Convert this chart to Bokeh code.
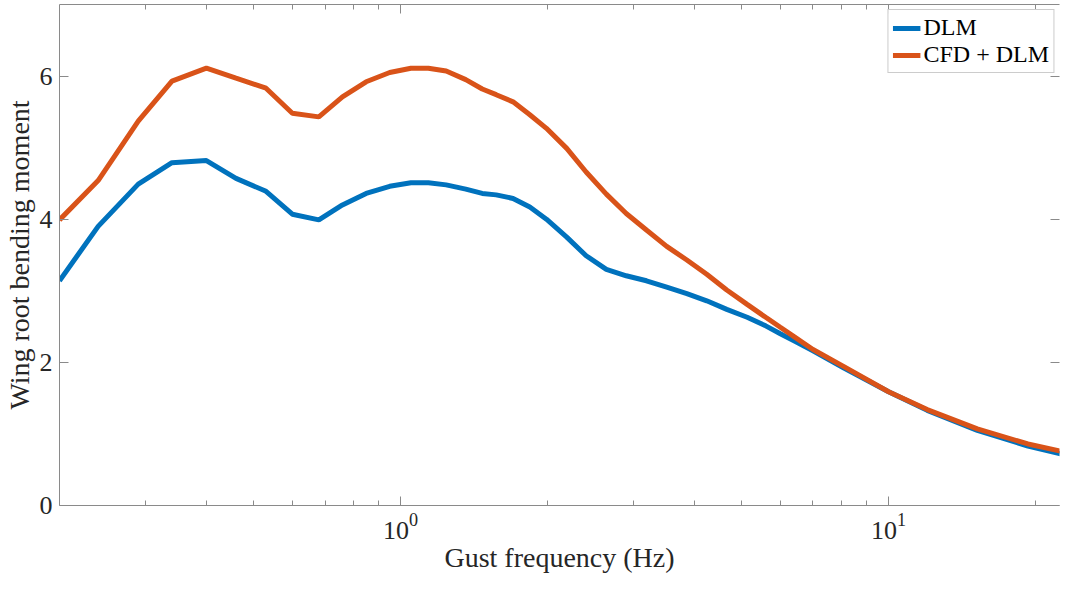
from bokeh.plotting import figure
from bokeh.models import (LogAxis, LinearAxis, FixedTicker, LogTickFormatter,
                          CustomJSTickFormatter, Legend, LegendItem, Range1d)
from bokeh.embed import file_html
from bokeh.resources import INLINE

# Gust frequency (Hz)
freq = [0.2, 0.24, 0.29, 0.34, 0.40, 0.46, 0.53, 0.60, 0.68, 0.76, 0.85, 0.95,
        1.05, 1.14, 1.24, 1.36, 1.47, 1.57, 1.70, 1.84, 1.99, 2.19, 2.40, 2.64,
        2.90, 3.19, 3.51, 3.86, 4.24, 4.66, 5.13, 5.6, 6.0, 6.4, 7.0, 8.1,
        10.0, 12.0, 15.2, 19.3, 25.0]

# Wing root bending moment
dlm = [3.14, 3.90, 4.49, 4.79, 4.82, 4.57, 4.39, 4.07, 3.99, 4.20, 4.36, 4.46,
       4.51, 4.51, 4.48, 4.42, 4.36, 4.34, 4.29, 4.17, 4.00, 3.75, 3.49, 3.30,
       3.21, 3.14, 3.05, 2.96, 2.86, 2.74, 2.63, 2.51, 2.40, 2.30, 2.16, 1.92,
       1.59, 1.33, 1.05, 0.83, 0.65]

cfd_dlm = [3.99, 4.54, 5.37, 5.93, 6.11, 5.97, 5.83, 5.48, 5.43, 5.71, 5.92, 6.05,
           6.11, 6.11, 6.07, 5.95, 5.82, 5.74, 5.64, 5.46, 5.27, 4.99, 4.66, 4.35,
           4.08, 3.85, 3.62, 3.43, 3.23, 3.01, 2.81, 2.63, 2.49, 2.36, 2.18, 1.94,
           1.59, 1.34, 1.07, 0.86, 0.69]

series_names = ["DLM", "CFD + DLM"]
series_colors = ["#0072BD", "#D95319"]

x_major = [1, 10]
x_minor = [0.3, 0.4, 0.5, 0.6, 0.7, 0.8, 0.9, 2, 3, 4, 5, 6, 7, 8, 9, 20]
y_major = [0, 2, 4, 6]

FONT = "Liberation Serif"
AX_COLOR = "#262626"
LINE_COLOR = "#8a8a8a"

p = figure(width=1062, height=575, x_axis_type="log",
           x_range=Range1d(0.2, 22.4), y_range=Range1d(0, 7),
           output_backend="svg", toolbar_location=None,
           min_border_left=54, min_border_right=0, min_border_top=0,
           min_border_bottom=60)
p.grid.visible = False
p.outline_line_color = None
p.background_fill_color = "white"
p.border_fill_color = "white"

r1 = p.line(freq, dlm, line_color=series_colors[0], line_width=5)
r2 = p.line(freq, cfd_dlm, line_color=series_colors[1], line_width=5)

blank = CustomJSTickFormatter(code="return ' ';")
top = LogAxis(ticker=FixedTicker(ticks=x_major, minor_ticks=x_minor),
              formatter=blank)
right = LinearAxis(ticker=FixedTicker(ticks=y_major, minor_ticks=[]),
                   formatter=blank)
p.add_layout(top, "above")
p.add_layout(right, "right")

bottom = p.below[0]
left = p.left[0]
bottom.ticker = FixedTicker(ticks=x_major, minor_ticks=x_minor)
bottom.formatter = LogTickFormatter()
left.ticker = FixedTicker(ticks=y_major, minor_ticks=[])
bottom.axis_label = "Gust frequency (Hz)"
left.axis_label = "Wing root bending moment"

for ax in (bottom, left, top, right):
    ax.axis_line_color = LINE_COLOR
    ax.axis_line_width = 1
    ax.major_tick_line_color = LINE_COLOR
    ax.minor_tick_line_color = LINE_COLOR
    ax.major_tick_in = 9
    ax.major_tick_out = 0
    ax.minor_tick_in = 5
    ax.minor_tick_out = 0
    ax.major_label_text_font = FONT
    ax.major_label_text_font_size = "26px"
    ax.major_label_text_color = AX_COLOR

for ax in (bottom, left):
    ax.axis_label_text_font = FONT
    ax.axis_label_text_font_size = "28px"
    ax.axis_label_text_font_style = "normal"
    ax.axis_label_text_color = AX_COLOR

for ax in (top, right):
    ax.major_label_text_font_size = "1px"
    ax.major_label_standoff = 0
right.axis_line_color = None

bottom.major_label_standoff = 8
bottom.axis_label_standoff = 0
bottom.axis_label_text_baseline = "middle"
left.major_label_standoff = 7
left.axis_label_standoff = 2

legend = Legend(items=[LegendItem(label=series_names[0], renderers=[r1]),
                       LegendItem(label=series_names[1], renderers=[r2])],
                location="top_right")
legend.margin = 5
legend.padding = 4
legend.spacing = 0
legend.label_text_font = FONT
legend.label_text_font_size = "24px"
legend.label_text_color = "#000000"
legend.label_height = 26
legend.label_standoff = 3
legend.glyph_width = 28
legend.glyph_height = 26
legend.border_line_color = "#999999"
legend.border_line_width = 1
legend.background_fill_color = "white"
p.add_layout(legend)

open("out.html", "w").write(file_html(p, INLINE))
